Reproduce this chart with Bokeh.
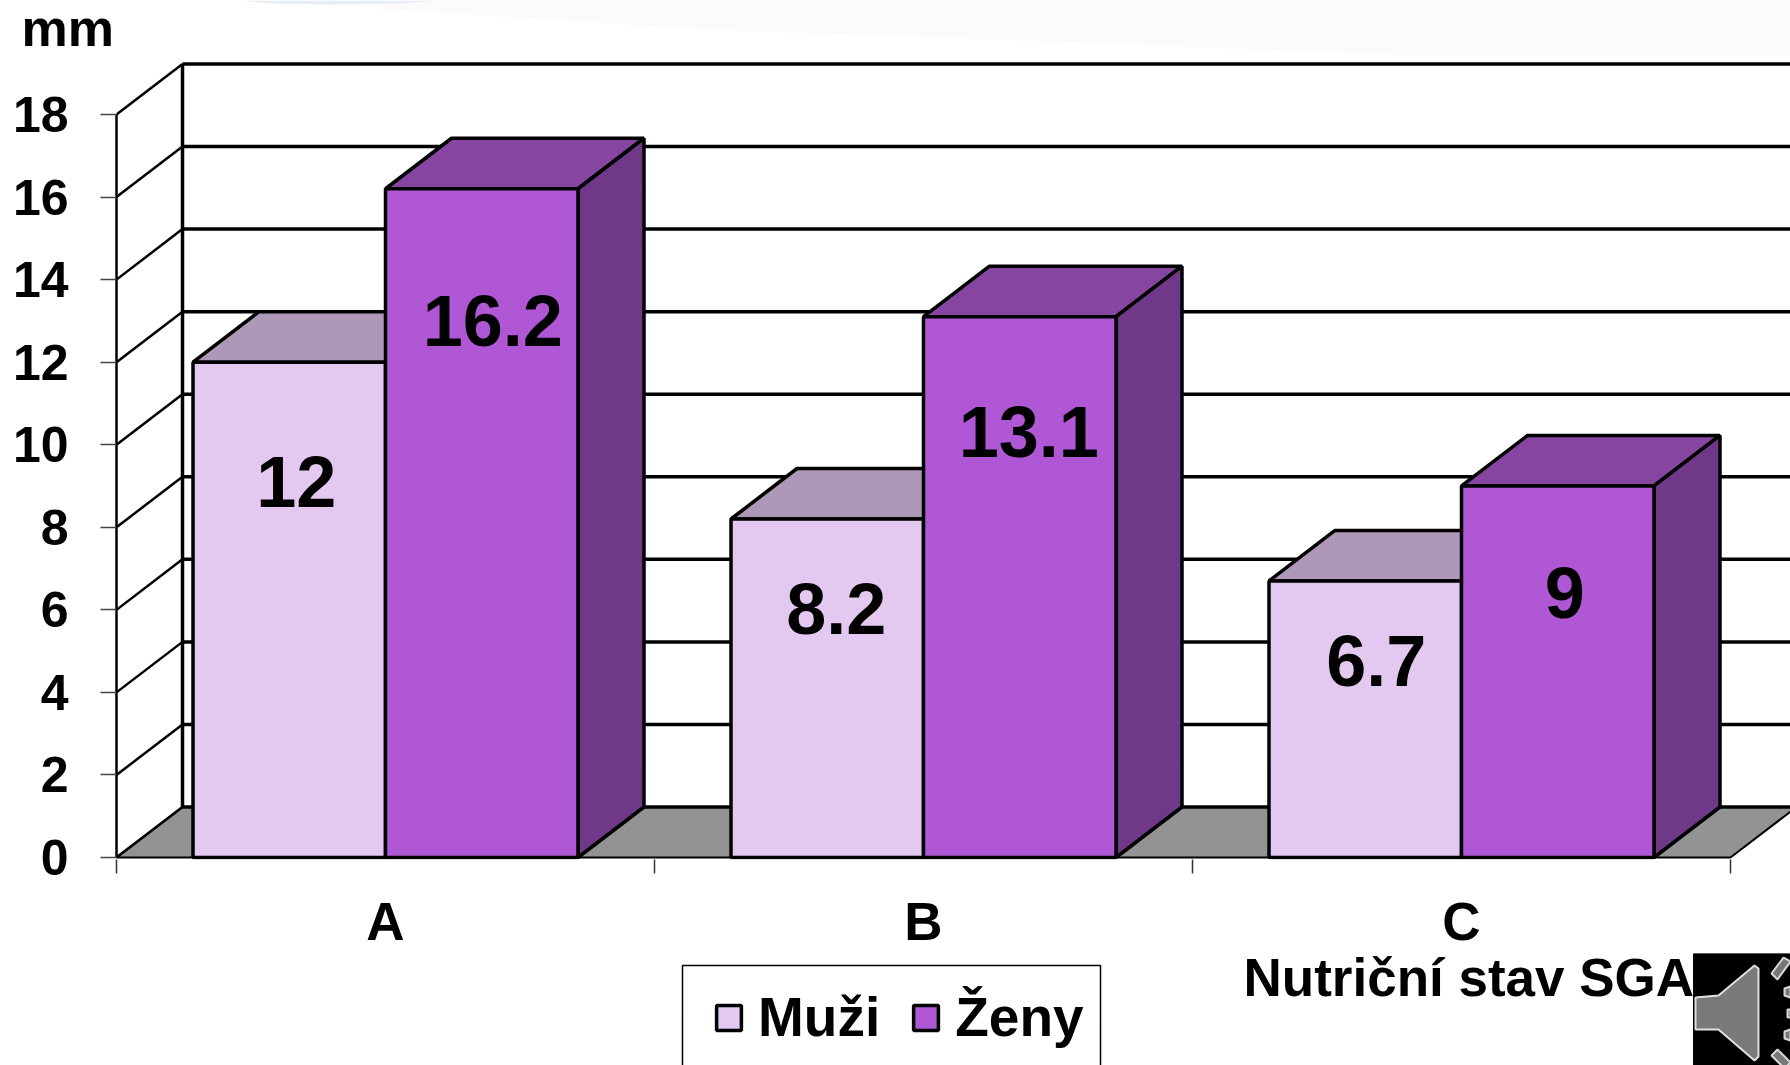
from bokeh.plotting import figure
from bokeh.embed import file_html
from bokeh.layouts import column
from bokeh.resources import INLINE
from bokeh.core.properties import value
from bokeh.models import (ColumnDataSource, FixedTicker, Legend, LegendItem, Range1d)

categories = ["A", "B", "C"]
muzi = [12, 8.2, 6.7]
zeny = [16.2, 13.1, 9]
muzi_labels = ["12", "8.2", "6.7"]
zeny_labels = ["16.2", "13.1", "9"]
y_ticks = [0, 2, 4, 6, 8, 10, 12, 14, 16, 18]
series_names = ["Muži", "Ženy"]
axis_title = "Nutriční stav SGA"
unit = "mm"

# layout (image pixels of the reference -> data units)
PX_CAT = 538.0
PX_VAL = 41.28
X0_PX, Y0_PX = 385.0, 857.0
def dx(px): return (px - X0_PX) / PX_CAT
def dy(py): return (Y0_PX - py) / PX_VAL

DEPTH_X = 66 / PX_CAT
DEPTH_Y = 50.5 / PX_VAL
BAR_W = 192.5 / PX_CAT
FONT = "Liberation Sans"
LW = 3.5
FACE = ["#E3C8EF", "#B057D6"]
TOP_H, MAIN_BOTTOM, FULL_H, FULL_W = 56, 953, 1065, 1790

xpos = list(range(len(categories)))

def strip(y0, y1):
    f = figure(width=FULL_W, height=y1 - y0, output_backend="svg", toolbar_location=None,
               x_range=Range1d(0, FULL_W), y_range=Range1d(y1, y0),
               x_axis_type=None, y_axis_type=None, min_border=0, frame_align=False,
               outline_line_color=None, background_fill_color="white", border_fill_color="white")
    f.grid.visible = False
    return f

def bold_text(f, txt, x, y, size, align="left"):
    f.text(x=[x], y=[y], text=[txt], text_font=value(FONT), text_font_style="bold",
           text_font_size=size, text_align=align, text_baseline="alphabetic", text_color="black")

# ---------- top strip: slide background and the unit
top = strip(0, TOP_H)
top.patch([250, 700, 1100, 1430, 1790, 1790], [0, 29, 43, 56, 56, 0],
          fill_color="#FBFBFB", line_color=None)
top.patch([240, 440, 400, 330, 270], [0, 0, 3, 4, 3], fill_color="#E6EDF6", line_color=None)
bold_text(top, unit, 21, 27, "52px")

# ---------- main chart
p = figure(width=FULL_W, height=MAIN_BOTTOM - TOP_H, output_backend="svg", toolbar_location=None,
           x_range=Range1d(-0.5, dx(FULL_W)), y_range=Range1d(dy(859), dy(TOP_H)),
           min_border_left=116, min_border_right=0, min_border_top=0,
           min_border_bottom=MAIN_BOTTOM - 859, frame_align=False,
           outline_line_color=None, background_fill_color="white", border_fill_color="white")
p.grid.visible = False

x_left, x_right = -0.5, len(categories) - 0.5
p.patch([x_left, x_left + DEPTH_X, x_right + DEPTH_X, x_right],
        [0, DEPTH_Y, DEPTH_Y, 0], fill_color="#939393", line_color="black", line_width=2)

p.multi_line([[x_left + DEPTH_X, x_right + DEPTH_X + 1] for _ in y_ticks],
             [[v + DEPTH_Y, v + DEPTH_Y] for v in y_ticks], line_color="black", line_width=LW)
p.multi_line([[x_left, x_left + DEPTH_X] for _ in y_ticks],
             [[v, v + DEPTH_Y] for v in y_ticks], line_color="black", line_width=2.5)
p.line([x_left + DEPTH_X, x_left + DEPTH_X], [DEPTH_Y, y_ticks[-1] + DEPTH_Y],
       line_color="black", line_width=LW)

for i, (vals, off, top_c, side) in enumerate([
        (muzi, -BAR_W / 2, "#AD98B8", "#8A6F98"),
        (zeny, BAR_W / 2, "#8645A0", "#6F3889")]):
    cx = [c + off for c in xpos]
    tx = [[c - BAR_W / 2, c - BAR_W / 2 + DEPTH_X, c + BAR_W / 2 + DEPTH_X, c + BAR_W / 2] for c in cx]
    ty = [[v, v + DEPTH_Y, v + DEPTH_Y, v] for v in vals]
    p.patches(tx, ty, fill_color=top_c, line_color="black", line_width=LW)
    sx = [[c + BAR_W / 2, c + BAR_W / 2 + DEPTH_X, c + BAR_W / 2 + DEPTH_X, c + BAR_W / 2] for c in cx]
    sy = [[0, DEPTH_Y, v + DEPTH_Y, v] for v in vals]
    p.patches(sx, sy, fill_color=side, line_color="black", line_width=LW)
    p.vbar(x=cx, top=vals, bottom=0, width=BAR_W, fill_color=FACE[i],
           line_color="black", line_width=LW)

lab_src = ColumnDataSource(dict(
    x=[c - BAR_W / 2 for c in xpos] + [c + BAR_W / 2 for c in xpos],
    y=muzi + zeny,
    text=muzi_labels + zeny_labels,
    xo=[7, 9, 11, 11, 9, 7],
    yo=[120, 90, 80, 132, 115, 107],
))
p.text(x="x", y="y", text="text", x_offset="xo", y_offset="yo", source=lab_src,
       text_font=value(FONT), text_font_style="bold", text_font_size="72px",
       text_align="center", text_baseline="middle", text_color="black")

ya = p.yaxis[0]
ya.ticker = FixedTicker(ticks=y_ticks)
ya.bounds = (0, y_ticks[-1])
ya.axis_line_color = "black"
ya.axis_line_width = 2.5
ya.major_tick_in = 0
ya.major_tick_out = 16
ya.major_tick_line_color = "#444444"
ya.major_tick_line_width = 1.5
ya.minor_tick_line_color = None
ya.major_label_standoff = 32
ya.major_label_text_font = FONT
ya.major_label_text_font_style = "bold"
ya.major_label_text_font_size = "50px"
ya.major_label_text_color = "black"

xa = p.xaxis[0]
xa.ticker = FixedTicker(ticks=xpos, minor_ticks=[c - 0.5 for c in xpos] + [xpos[-1] + 0.5])
xa.major_label_overrides = {c: categories[c] for c in xpos}
xa.axis_line_color = None
xa.major_tick_line_color = None
xa.major_tick_in = 0
xa.major_tick_out = 0
xa.minor_tick_in = 0
xa.minor_tick_out = 14
xa.minor_tick_line_color = "#333333"
xa.minor_tick_line_width = 1.5
xa.major_label_standoff = 18
xa.major_label_text_font = FONT
xa.major_label_text_font_style = "bold"
xa.major_label_text_font_size = "53px"
xa.major_label_text_color = "black"

# ---------- bottom strip: axis title, legend, speaker icon
bot = strip(MAIN_BOTTOM, FULL_H)
bold_text(bot, axis_title, 1243, 977, "53px")

# legend frame runs off the bottom of the slide
bot.line([682, 682, 1100, 1100], [1070, 965, 965, 1070], line_color="black", line_width=1.5)

# legend keys: one point per series, hidden beneath the speaker's black box
keys = [bot.vbar(x=[1740], top=[1000], bottom=[1001], width=1, fill_color=FACE[i],
                 line_color="black", line_width=LW) for i in range(2)]
legend = Legend(items=[LegendItem(label=series_names[i], renderers=[keys[i]]) for i in range(2)],
                orientation="horizontal", location=(713, 16),
                label_text_font=FONT, label_text_font_style="bold", label_text_font_size="55px",
                label_text_color="black", glyph_width=31, glyph_height=31,
                label_standoff=14, spacing=30, padding=0, margin=0,
                border_line_color=None, background_fill_alpha=0)
bot.add_layout(legend, "center")

def poly(pts, fill, line=None, lw=1):
    bot.patch([a for a, _ in pts], [b for _, b in pts], fill_color=fill, line_color=line, line_width=lw)

poly([(1693, 953), (1790, 953), (1790, 1065), (1693, 1065)], "black", "black", 1)
poly([(1695, 997), (1718, 995), (1754, 965), (1758, 968), (1758, 1056), (1754, 1060),
      (1718, 1029), (1695, 1029)], "#7A7A7A", "#E0E0E0", 2)
poly([(1783, 957), (1790, 961), (1777, 979), (1771, 973)], "#777777", "#D8D8D8", 2)
poly([(1784, 988), (1790, 986), (1790, 997), (1784, 995)], "#777777", "#D8D8D8", 2)
poly([(1787, 1009), (1790, 1009), (1790, 1017), (1787, 1017)], "#777777", "#D8D8D8", 2)
poly([(1784, 1031), (1790, 1029), (1790, 1040), (1784, 1038)], "#777777", "#D8D8D8", 2)
poly([(1771, 1055), (1777, 1049), (1790, 1062), (1784, 1068)], "#777777", "#D8D8D8", 2)

layout = column(top, p, bot, spacing=0)
open("out.html", "w").write(file_html(layout, INLINE))
